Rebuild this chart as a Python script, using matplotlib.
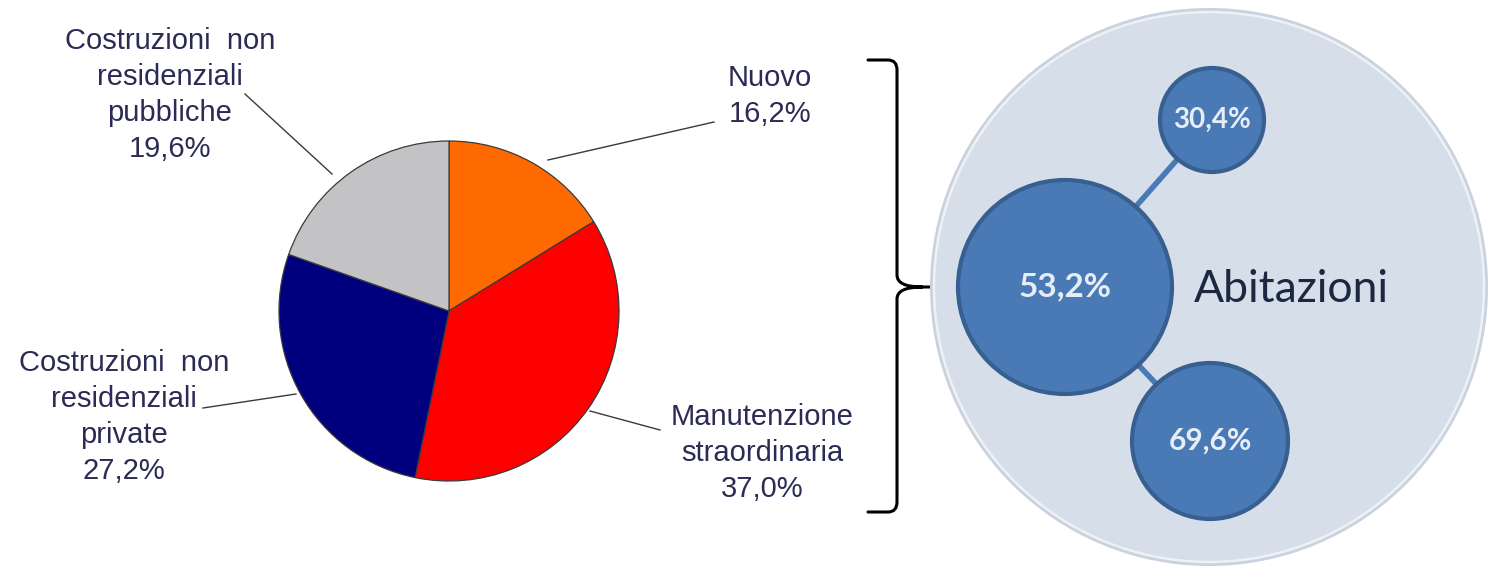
import matplotlib
matplotlib.use("Agg")
import matplotlib.pyplot as plt
from matplotlib.patches import Circle
from matplotlib.path import Path
from matplotlib.patches import PathPatch

# ---- data ----
segments = ["Nuovo", "Manutenzione\nstraordinaria",
            "Costruzioni  non\nresidenziali\nprivate",
            "Costruzioni  non\nresidenziali\npubbliche"]
shares = [16.2, 37.0, 27.2, 19.6]
seg_colors = ["#ff6a00", "#ff0000", "#00007f", "#c3c3c5"]

bubble_labels = ["30,4%", "53,2%", "69,6%"]
group_label = "Abitazioni"

W, H = 1489, 570
TXT = "#2b2b55"

fig = plt.figure(figsize=(W / 100, H / 100), dpi=100)
ax = fig.add_axes([0, 0, 1, 1])


def Y(py):
    return H - py


# ---- pie ----
ax.pie(shares, colors=seg_colors, startangle=90, counterclock=False,
       center=(449, Y(311)), radius=170,
       wedgeprops=dict(edgecolor="#3a3a3a", linewidth=0.9))
ax.set_xlim(0, W)
ax.set_ylim(0, H)
ax.set_aspect("equal")
ax.axis("off")

# label text positions (pixel coords) and leader lines
label_pos = [(770, 96), (762, 453), (124, 417), (170, 95)]
leaders = [((548, 160), (714, 122)),
           ((590, 411), (660, 430)),
           ((296, 394), (203, 408)),
           ((332, 174), (245, 94))]
for name, val, (lx, ly), (p, q) in zip(segments, shares, label_pos, leaders):
    txt = f"{name}\n{val:.1f}%".replace(".", ",")
    ax.text(lx, Y(ly), txt, ha="center", va="center", fontsize=21,
            color=TXT, family="Liberation Sans", linespacing=1.36)
    ax.plot([p[0], q[0]], [Y(p[1]), Y(q[1])], color="#3a3a3a", lw=1.0)

# ---- curly brace ----
bx, top, bot, mid, tip = 897, 60, 512, 287, 932
verts = [(868, Y(top)), (888, Y(top)), (bx, Y(top)), (bx, Y(top + 10)),
         (bx, Y(mid - 12)), (bx, Y(mid)), (tip - 10, Y(mid)), (tip, Y(mid)),
         (tip - 10, Y(mid)), (bx, Y(mid)), (bx, Y(mid + 12)),
         (bx, Y(bot - 10)), (bx, Y(bot)), (888, Y(bot)), (868, Y(bot))]
codes = [Path.MOVETO, Path.LINETO, Path.CURVE3, Path.CURVE3,
         Path.LINETO, Path.CURVE3, Path.CURVE3, Path.LINETO,
         Path.MOVETO, Path.CURVE3, Path.CURVE3,
         Path.LINETO, Path.CURVE3, Path.CURVE3, Path.LINETO]
ax.add_patch(PathPatch(Path(verts, codes), facecolor="none",
                       edgecolor="black", lw=2.2, capstyle="round"))

# ---- bubble group ----
ax.add_patch(Circle((1209, Y(287)), 279, facecolor="#c9d2de",
                    edgecolor="none", zorder=1))
ax.add_patch(Circle((1209, Y(287)), 275, facecolor="#d6dee9",
                    edgecolor="#eef2f7", lw=1.8, zorder=1))

centers = [(1212, 120), (1065, 287), (1210, 441)]
radii = [52, 107, 78]
font_sz = [20, 24, 21.5]
for (cx, cy) in (centers[0], centers[2]):
    ax.plot([centers[1][0], cx], [Y(centers[1][1]), Y(cy)],
            color="#4a7ab5", lw=4, zorder=2)
for (cx, cy), lab, r, fs in zip(centers, bubble_labels, radii, font_sz):
    ax.add_patch(Circle((cx, Y(cy)), r, facecolor="#4a7ab5",
                        edgecolor="#375f90", lw=3, zorder=3))
    ax.text(cx, Y(cy), lab, ha="center", va="center", fontsize=fs,
            fontweight="bold", color="#e6edf7", family="Lato", zorder=4)

ax.text(1291, Y(290), group_label, ha="center", va="center", fontsize=32,
        color="#1c2740", family="Lato", zorder=4)

fig.savefig("out.png", dpi=100, facecolor="white")
